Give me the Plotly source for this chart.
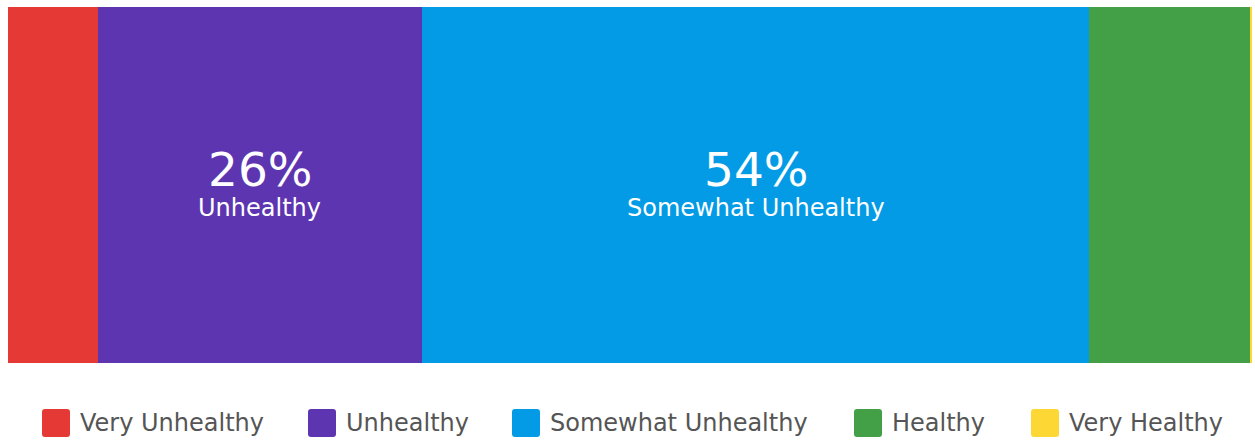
import plotly.graph_objects as go

categories = ["Very Unhealthy", "Unhealthy", "Somewhat Unhealthy", "Healthy", "Very Healthy"]
values = [7.2, 26.1, 53.6, 12.9, 0.2]
colors = ["#E53935", "#5E35B1", "#039BE5", "#43A047", "#FDD835"]
label_min = 20  # only segments at least this share get an inside label

W, H = 1255, 441
L, R, T, B = 8, 3, 7, 78
pw, ph = W - L - R, H - T - B
FONT = "DejaVu Sans"

def px_x(p):  # page pixel -> paper
    return (p - L) / pw

def px_y(p):
    return (H - B - p) / ph

fig = go.Figure()
for name, v, c in zip(categories, values, colors):
    fig.add_trace(go.Bar(
        x=[v], y=["s"], orientation="h", name=name,
        marker=dict(color=c, line=dict(width=0)),
        hoverinfo="name+x", showlegend=False,
    ))

total = sum(values)
annotations = []
cum = 0
for name, v in zip(categories, values):
    mid = cum + v / 2
    cum += v
    if v >= label_min:
        annotations.append(dict(
            x=mid, y="s", xref="x", yref="y", text=f"{round(v)}%",
            showarrow=False, yanchor="middle", yshift=16,
            font=dict(family=FONT, size=47, color="white"),
        ))
        annotations.append(dict(
            x=mid, y="s", xref="x", yref="y", text=name,
            showarrow=False, yanchor="middle", yshift=-23,
            font=dict(family=FONT, size=24, color="white"),
        ))

# custom legend (large rounded swatches)
legend_x = [42, 308, 512, 854, 1031]
box = 28
box_top = 409
shapes = []
r = 3
for lx, name, c in zip(legend_x, categories, colors):
    x0, x1 = lx, lx + box
    y0, y1 = box_top, box_top + box
    path = (f"M {px_x(x0+r)},{px_y(y0)} L {px_x(x1-r)},{px_y(y0)} "
            f"Q {px_x(x1)},{px_y(y0)} {px_x(x1)},{px_y(y0+r)} "
            f"L {px_x(x1)},{px_y(y1-r)} Q {px_x(x1)},{px_y(y1)} {px_x(x1-r)},{px_y(y1)} "
            f"L {px_x(x0+r)},{px_y(y1)} Q {px_x(x0)},{px_y(y1)} {px_x(x0)},{px_y(y1-r)} "
            f"L {px_x(x0)},{px_y(y0+r)} Q {px_x(x0)},{px_y(y0)} {px_x(x0+r)},{px_y(y0)} Z")
    shapes.append(dict(type="path", xref="paper", yref="paper", path=path,
                       fillcolor=c, line=dict(width=0), layer="above"))
    annotations.append(dict(
        x=px_x(lx + box + 8), y=px_y(box_top + box / 2), xref="paper", yref="paper",
        xanchor="left", yanchor="middle", text=name, showarrow=False,
        font=dict(family=FONT, size=24, color="#555555"),
    ))

fig.update_layout(
    width=W, height=H,
    margin=dict(l=L, r=R, t=T, b=B),
    barmode="stack", bargap=0,
    plot_bgcolor="white", paper_bgcolor="white",
    xaxis=dict(range=[0, total], visible=False, fixedrange=True),
    yaxis=dict(visible=False, fixedrange=True),
    showlegend=False,
    annotations=annotations, shapes=shapes,
)

fig.write_html("out.html",
               config={"displayModeBar": False},
               post_script="document.body.style.margin='0px';document.body.style.overflow='hidden';")
